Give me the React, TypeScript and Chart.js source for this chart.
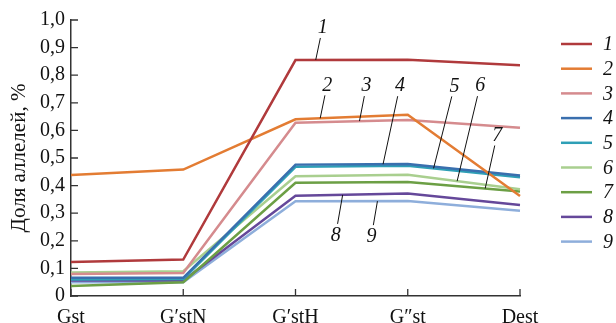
import React, { useEffect, useRef } from "react";
import { Chart, registerables } from "chart.js";
Chart.register(...registerables);

const categories = ["Gst", "G′stN", "G′stH", "G″st", "Dest"];
const series1 = [0.123, 0.132, 0.855, 0.856, 0.836];
const series2 = [0.438, 0.458, 0.640, 0.657, 0.362];
const series3 = [0.080, 0.083, 0.628, 0.638, 0.610];
const series4 = [0.066, 0.066, 0.476, 0.478, 0.437];
const series5 = [0.060, 0.062, 0.468, 0.472, 0.430];
const series6 = [0.085, 0.090, 0.434, 0.439, 0.387];
const series7 = [0.036, 0.050, 0.410, 0.413, 0.379];
const series8 = [0.056, 0.056, 0.363, 0.371, 0.330];
const series9 = [0.050, 0.050, 0.343, 0.344, 0.309];
const seriesNames = ["1", "2", "3", "4", "5", "6", "7", "8", "9"];
const yTickLabels = ["0", "0,1", "0,2", "0,3", "0,4", "0,5", "0,6", "0,7", "0,8", "0,9", "1,0"];
const yAxisTitle = "Доля аллелей, %";

const allSeries = [series1, series2, series3, series4, series5, series6, series7, series8, series9];
const seriesColors = [
  "#b03a3c", "#e37c33", "#d58b8e", "#3a6fae", "#2e9fb6",
  "#a9cf8f", "#6c9f45", "#65489a", "#8eaedb",
];

// callout labels: series index, position along category axis, label offset (px)
const callouts = [
  { s: 0, t: 2.18, dx: 7, dy: -33 },
  { s: 1, t: 2.22, dx: 7, dy: -34 },
  { s: 2, t: 2.57, dx: 7, dy: -36 },
  { s: 3, t: 2.78, dx: 17, dy: -79 },
  { s: 4, t: 3.23, dx: 21, dy: -83 },
  { s: 5, t: 3.44, dx: 23, dy: -96 },
  { s: 6, t: 3.69, dx: 12, dy: -54 },
  { s: 7, t: 2.42, dx: -7, dy: 40 },
  { s: 8, t: 2.73, dx: -6, dy: 35 },
];

const FONT = "'Liberation Serif', 'DejaVu Serif', serif";

const decorPlugin = {
  id: "decor",
  afterDraw(chart: any) {
    const ctx = chart.ctx;
    const xs = chart.scales.x;
    const ys = chart.scales.y;
    const area = chart.chartArea;
    ctx.save();
    // inward ticks
    ctx.strokeStyle = "#333";
    ctx.lineWidth = 1.3;
    ctx.beginPath();
    for (let i = 0; i < categories.length; i++) {
      const x = xs.getPixelForValue(i);
      ctx.moveTo(x, area.bottom);
      ctx.lineTo(x, area.bottom - 7);
    }
    for (let i = 0; i < yTickLabels.length; i++) {
      const y = ys.getPixelForValue(i / 10);
      ctx.moveTo(area.left, y);
      ctx.lineTo(area.left + 7, y);
    }
    ctx.stroke();

    // callouts
    ctx.font = "italic 20px " + FONT;
    ctx.textAlign = "center";
    ctx.textBaseline = "middle";
    ctx.fillStyle = "#111";
    ctx.lineWidth = 1;
    ctx.strokeStyle = "#111";
    callouts.forEach((c) => {
      const data = allSeries[c.s];
      const i0 = Math.floor(c.t);
      const f = c.t - i0;
      const v = data[i0] + (data[Math.min(i0 + 1, data.length - 1)] - data[i0]) * f;
      const ax = xs.getPixelForValue(c.t);
      const ay = ys.getPixelForValue(v);
      const lx = ax + c.dx;
      const ly = ay + c.dy;
      const gap = 11;
      const k = gap / Math.abs(c.dy);
      const ex = lx - c.dx * k;
      const ey = ly - c.dy * k;
      ctx.beginPath();
      ctx.moveTo(ax, ay);
      ctx.lineTo(ex, ey);
      ctx.stroke();
      ctx.fillText(seriesNames[c.s], lx, ly + 1);
    });

    // legend
    for (let i = 0; i < seriesNames.length; i++) {
      const y = 44 + i * 24.7;
      ctx.strokeStyle = seriesColors[i];
      ctx.lineWidth = 2.5;
      ctx.beginPath();
      ctx.moveTo(561, y);
      ctx.lineTo(592, y);
      ctx.stroke();
      ctx.fillStyle = "#111";
      ctx.fillText(seriesNames[i], 608, y + 1);
    }
    ctx.restore();
  },
};

export default function App() {
  const ref = useRef<HTMLCanvasElement>(null);
  useEffect(() => {
    if (!ref.current) return;
    const chart = new Chart(ref.current, {
      type: "line",
      data: {
        labels: categories,
        datasets: allSeries.map((d, i) => ({
          label: seriesNames[i],
          data: d,
          borderColor: seriesColors[i],
          backgroundColor: seriesColors[i],
          borderWidth: 2.5,
          pointRadius: 0,
          tension: 0,
          order: i === 0 ? 0 : i + 1,
        })),
      },
      options: {
        animation: false,
        responsive: false,
        layout: { padding: { top: 20, right: 96, left: 0, bottom: 0 } },
        plugins: { legend: { display: false }, tooltip: { enabled: false } },
        scales: {
          x: {
            type: "category",
            offset: false,
            grid: { display: false, drawTicks: false },
            border: { color: "#333", width: 1.5 },
            ticks: {
              color: "#111",
              font: { family: FONT, size: 20 },
              padding: 10,
              maxRotation: 0,
              autoSkip: false,
            },
            afterFit(scale: any) {
              scale.height = 27;
            },
          },
          y: {
            min: 0,
            max: 1,
            grid: { display: false, drawTicks: false },
            border: { color: "#333", width: 1.5 },
            ticks: {
              stepSize: 0.1,
              color: "#111",
              font: { family: FONT, size: 20 },
              padding: 6,
              callback: (v: any) => yTickLabels[Math.round(Number(v) * 10)],
            },
            title: {
              display: true,
              text: yAxisTitle,
              color: "#111",
              font: { family: FONT, size: 21 },
              padding: { top: 7, bottom: 0 },
            },
            afterFit(scale: any) {
              scale.width = 71;
            },
          },
        },
      },
      plugins: [decorPlugin],
    });
    return () => chart.destroy();
  }, []);
  return (
    <div style={{ position: "absolute", left: 0, top: 0, width: 616, height: 323, background: "#fff" }}>
      <canvas ref={ref} width={616} height={323} style={{ display: "block" }} />
    </div>
  );
}
